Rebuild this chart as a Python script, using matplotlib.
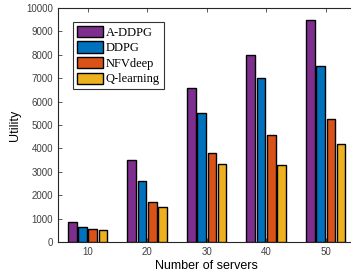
import matplotlib
matplotlib.use("Agg")
import matplotlib.pyplot as plt
import numpy as np

servers = [10, 20, 30, 40, 50]
series_names = ["A-DDPG", "DDPG", "NFVdeep", "Q-learning"]
a_ddpg = [850, 3500, 6600, 8000, 9500]
ddpg = [650, 2600, 5500, 7000, 7500]
nfvdeep = [550, 1700, 3800, 4550, 5250]
qlearning = [500, 1500, 3350, 3300, 4200]
colors = ["#7E2F8E", "#0072BD", "#D95319", "#EDB120"]

fig = plt.figure(figsize=(3.51, 2.78), dpi=100)
ax = fig.add_axes([0.165, 0.1295, 0.8476, 0.842])

data = [a_ddpg, ddpg, nfvdeep, qlearning]
step = 1.73
width = 1.45
x = np.array(servers, dtype=float)
for i, (vals, c, name) in enumerate(zip(data, colors, series_names)):
    off = (i - 1.5) * step
    ax.bar(x + off, vals, width=width, color=c, edgecolor="black",
           linewidth=1.0, label=name, zorder=3)

ax.set_xlim(5, 55)
ax.set_ylim(0, 10000)
ax.set_xticks(servers)
ax.set_yticks(np.arange(0, 10001, 1000))
ax.tick_params(direction="in", top=True, right=True, length=3, width=0.6,
               labelsize=7, colors="#404040", labelcolor="#404040")
for s in ax.spines.values():
    s.set_linewidth(0.8)
    s.set_color("#262626")
for lab in ax.get_xticklabels() + ax.get_yticklabels():
    lab.set_fontfamily("Liberation Sans")

ax.set_xlabel("Number of servers", fontsize=9, family="Liberation Sans", labelpad=2)
ax.set_ylabel("Utility", fontsize=9, family="Liberation Sans", labelpad=4)

leg = ax.legend(loc="upper left", bbox_to_anchor=(0.05, 0.94),
                prop={"family": "Liberation Serif", "size": 9},
                frameon=True, fancybox=False, edgecolor="black",
                handlelength=2.1, handleheight=1.0, handletextpad=0.25,
                labelspacing=0.22, borderpad=0.3, borderaxespad=0)
leg.get_frame().set_linewidth(0.8)

fig.savefig("out.png", dpi=100)
